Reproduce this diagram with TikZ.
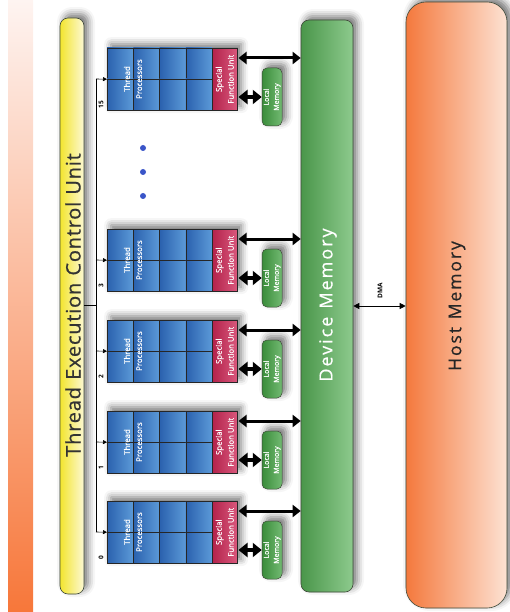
\documentclass[tikz,border=0pt]{standalone}
\usepackage{fontspec}
\setmainfont{Open Sans}
\newfontfamily\titlefont[LetterSpace=4,WordSpace=1.2,FakeBold=0.6]{Open Sans}
\newfontfamily\memfont[LetterSpace=11,WordSpace=1.2,FakeBold=0.5]{Open Sans}
\newfontfamily\smallfont[FakeBold=0.4]{Open Sans}
\usetikzlibrary{arrows.meta,shadows.blur,calc}
\definecolor{stripTop}{HTML}{FEF4F1}
\definecolor{stripMid}{HTML}{FBBBA0}
\definecolor{stripBot}{HTML}{F7773A}
\definecolor{yelL}{HTML}{F3E52E}
\definecolor{yelR}{HTML}{FDF9D4}
\definecolor{devL}{HTML}{4A964A}
\definecolor{devR}{HTML}{8DCA8D}
\definecolor{lmL}{HTML}{3A8C3A}
\definecolor{lmR}{HTML}{72BA72}
\definecolor{bluL}{HTML}{2A61AE}
\definecolor{bluR}{HTML}{5C9AD8}
\definecolor{pinkL}{HTML}{B3224B}
\definecolor{pinkR}{HTML}{D9587D}
\definecolor{hostL}{HTML}{F4793D}
\definecolor{hostR}{HTML}{FDE2D3}
\definecolor{dotblue}{HTML}{3A55C8}
\definecolor{edge}{HTML}{3F4A3A}
\begin{document}
\begin{tikzpicture}[x=1pt,y=-1pt,
  shadowed/.style={blur shadow={shadow xshift=4pt,shadow yshift=4pt,shadow blur radius=7pt,shadow opacity=55}},
  tecubox/.style={shadowed,draw=edge,line width=0.6pt,rounded corners=8pt,left color=yelL,right color=yelR,inner sep=0pt},
  devbox/.style={shadowed,draw=edge,line width=0.6pt,rounded corners=8pt,left color=devL,right color=devR,inner sep=0pt},
  hostbox/.style={shadowed,draw=edge,line width=0.6pt,rounded corners=20pt,left color=hostL,right color=hostR,inner sep=0pt},
  lmbox/.style={shadowed,draw=edge,line width=0.5pt,rounded corners=5pt,left color=lmL,right color=lmR,inner sep=0pt,minimum width=20pt,minimum height=58pt},
  blockbg/.style={shadowed,fill=white,inner sep=0pt,minimum width=130pt,minimum height=62pt,anchor=north west},
  tpbox/.style={inner sep=0pt,minimum width=105pt,minimum height=62pt,anchor=north west},
  cellbox/.style={draw=black!85,line width=0.5pt,left color=bluL,right color=bluR},
  sfubox/.style={draw=black!85,line width=0.5pt,left color=pinkL,right color=pinkR,inner sep=0pt,minimum width=25pt,minimum height=62pt,anchor=north west},
  smalltext/.style={text=white,font=\smallfont\fontsize{7.8}{12}\selectfont,align=center,rotate=90,inner sep=0pt},
  lmtext/.style={text=white,font=\smallfont\fontsize{7}{10}\selectfont,align=center,rotate=90,inner sep=0pt},
  idxtext/.style={text=black,font=\bfseries\fontsize{6.5}{7}\selectfont,rotate=90,inner sep=0pt},
  bigarrow/.style={line width=3pt,{Triangle[length=8pt,width=12pt]}-{Triangle[length=8pt,width=12pt]}},
  smallarrow/.style={line width=3.5pt,{Triangle[length=9pt,width=14pt]}-{Triangle[length=9pt,width=14pt]}},
  busline/.style={line width=0.6pt,black},
  busarrow/.style={line width=0.6pt,black,-{Triangle[length=4pt,width=4pt]}},
  dmaarrow/.style={line width=0.8pt,black,{Triangle[length=6pt,width=6pt]}-{Triangle[length=6pt,width=6pt]}}
]
\useasboundingbox (0,0) rectangle (509,612);
% left strip
\shade[top color=stripTop,middle color=stripMid,bottom color=stripBot] (8,0) rectangle (33,612);

% thread execution control unit
\node[tecubox,minimum width=24pt,minimum height=576pt] (tecu) at (72,306) {};
\node[rotate=90,text=black!80,font=\titlefont\fontsize{20}{23}\selectfont,inner sep=0pt] (tecut) at (73,305) {Thread Execution Control Unit};

% device memory
\node[devbox,minimum width=52pt,minimum height=572pt] (dev) at (327,306) {};
\node[rotate=90,text=white,font=\memfont\fontsize{18}{21}\selectfont,inner sep=0pt] (devt) at (328,305) {Device Memory};

% host memory
\node[hostbox,minimum width=101pt,minimum height=606pt] (host) at (456.5,305) {};
\node[rotate=90,text=black!85,font=\memfont\fontsize{17.5}{20}\selectfont,inner sep=0pt] (hostt) at (457,306) {Host Memory};

% blocks
\foreach \n/\t in {0/501,1/411,2/320,3/229,15/48}{
  \node[blockbg] (bg\n) at (107,\t) {};
  \node[tpbox] (tp\n) at (107,\t) {};
  \foreach \c in {0,1,2,3}{
    \foreach \r in {0,1}{
      \draw[cellbox] (107+\c*26.25,\t+\r*31) rectangle ++(26.25,31);
    }
  }
  \node[smalltext] (tpt\n) at (133,\t+31) {Thread\\Processors};
  \node[sfubox] (sfu\n) at (212,\t) {};
  \node[smalltext] (sfut\n) at (sfu\n.center) {Special\\Function Unit};
  \node[lmbox] (lm\n) at (272,\t+49) {};
  \node[lmtext] (lmt\n) at (lm\n.center) {Local\\Memory};
  \node[idxtext] (idx\n) at (101,\t+57) {\n};
  \coordinate (ba\n) at ($(sfu\n.north east)+(1,10)$);
  \draw[bigarrow] (ba\n) -- (ba\n -| dev.west);
  \coordinate (sa\n) at ($(sfu\n.north east)+(1,49)$);
  \draw[smallarrow] (sa\n) -- (lm\n.west);
  \coordinate (bus\n) at (96,\t+31);
  \draw[busarrow] (bus\n) -- (tp\n.west);
}
\draw[busline] (bus15) -- (bus0);
\coordinate (busj) at (96,305);
\draw[busline] (busj -| tecu.east) -- (busj);

% dots
\fill[dotblue] (143,148) circle (3pt);
\fill[dotblue] (143,172) circle (3pt);
\fill[dotblue] (143,196) circle (3pt);

% DMA
\coordinate (dmay) at (0,306);
\draw[dmaarrow] (dmay -| dev.east) -- (dmay -| host.west);
\node[rotate=90,font=\bfseries\fontsize{6.5}{7}\selectfont,inner sep=0pt] (dmat) at (380,291) {DMA};
\end{tikzpicture}
\end{document}
